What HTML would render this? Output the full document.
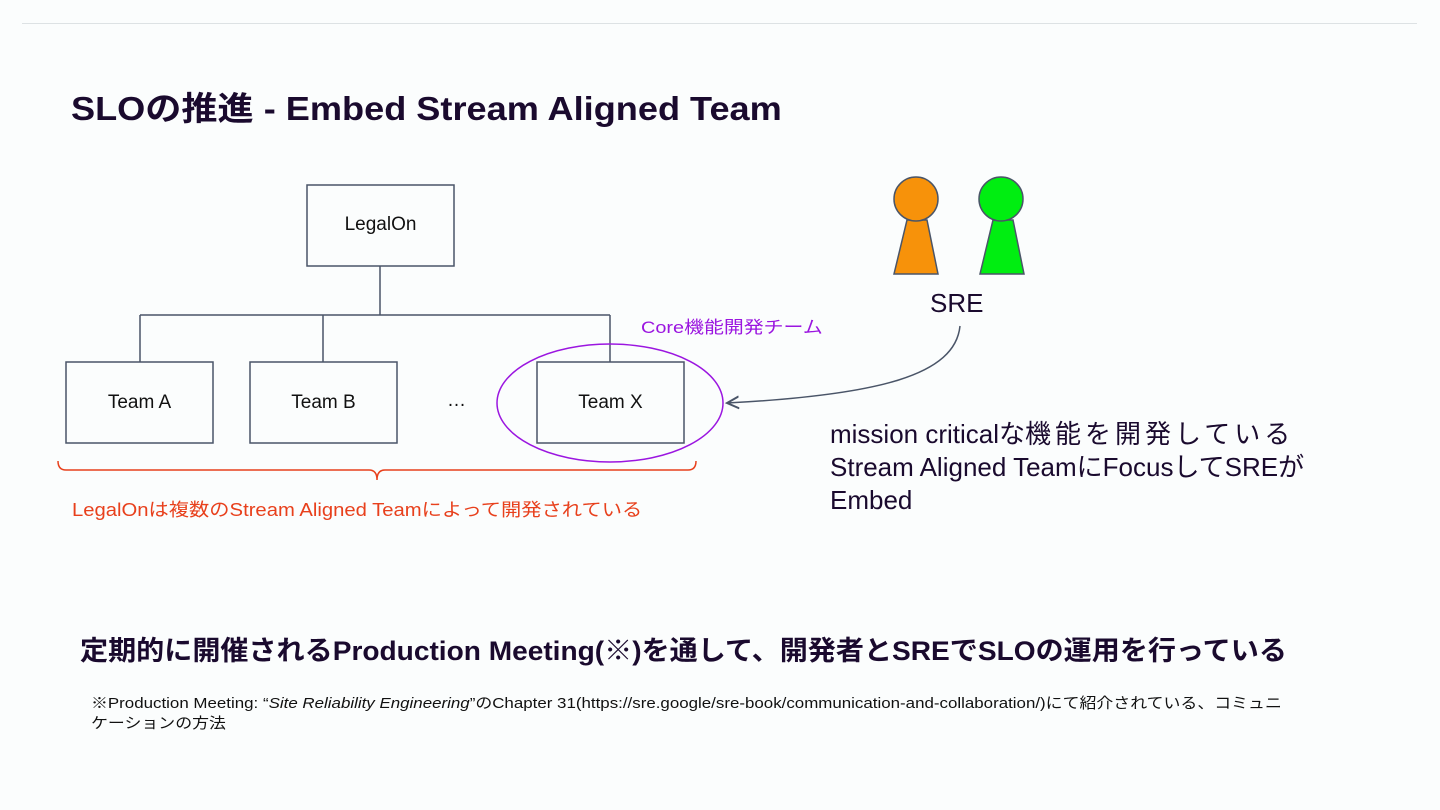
<!DOCTYPE html>
<html><head><meta charset="utf-8"><style>
body{margin:0;width:1440px;height:810px;background:#fbfdfd;position:relative;overflow:hidden;font-family:"Liberation Sans","Noto Sans CJK JP",sans-serif;}
.t{position:absolute;white-space:nowrap;transform-origin:0 0;}
</style></head><body>
<div style="position:absolute;left:22px;top:23px;width:1395px;height:1px;background:#dde2e4"></div>
<div class="t" style="left:71px;top:82px;font-size:33px;font-weight:bold;color:#1a0a2e;transform:scaleX(1.095)">SLOの推進 - Embed Stream Aligned Team</div>
<svg width="1440" height="810" style="position:absolute;left:0;top:0">
<defs><marker id="a" markerWidth="10" markerHeight="10" refX="8" refY="5" orient="auto"><path d="M0,1 L8,5 L0,9" fill="none" stroke="#4a5568" stroke-width="1.3"/></marker></defs>
<g fill="none" stroke="#4a5568" stroke-width="1.5">
<rect x="307" y="185" width="147" height="81"/>
<rect x="66" y="362" width="147" height="81"/>
<rect x="250" y="362" width="147" height="81"/>
<rect x="537" y="362" width="147" height="81"/>
<path d="M380 266 V315 M140 315 H610 M140 315 V362 M323 315 V362 M610 315 V362"/>
<path d="M960 326 C955 375 880 395 727 403" marker-end="url(#a)"/>
</g>
<ellipse cx="610" cy="403" rx="113" ry="59" fill="none" stroke="#9b16e0" stroke-width="1.5"/>
<path d="M58 461 Q58 470 66 470 H369 Q377 470 377 480 Q377 470 385 470 H688 Q696 470 696 461" fill="none" stroke="#e8401c" stroke-width="1.5"/>
<g stroke="#4a5568" stroke-width="1.5">
<polygon points="907,220 927,220 938,274 894,274" fill="#f7920a"/>
<circle cx="916" cy="199" r="22" fill="#f7920a"/>
<polygon points="993,220 1013,220 1024,274 980,274" fill="#00ee11"/>
<circle cx="1001" cy="199" r="22" fill="#00ee11"/>
</g>
</svg>
<div class="t" style="left:307px;top:214px;width:147px;text-align:center;font-size:19px;color:#111">LegalOn</div>
<div class="t" style="left:66px;top:392px;width:147px;text-align:center;font-size:19px;color:#111">Team A</div>
<div class="t" style="left:250px;top:392px;width:147px;text-align:center;font-size:19px;color:#111">Team B</div>
<div class="t" style="left:537px;top:392px;width:147px;text-align:center;font-size:19px;color:#111">Team X</div>
<div class="t" style="left:447px;top:390px;font-size:19px;color:#111">…</div>
<div class="t" style="left:641px;top:313px;font-size:17px;color:#9b16e0;transform:scaleX(1.17)">Core機能開発チーム</div>
<div class="t" style="left:930px;top:288px;font-size:26px;color:#1a0a2e">SRE</div>
<div class="t" style="left:72px;top:496px;font-size:18px;color:#e8401c;transform:scaleX(1.125)">LegalOnは複数のStream Aligned Teamによって開発されている</div>
<div class="t" style="left:830px;top:418px;font-size:26px;line-height:33px;color:#1a0a2e">mission criticalな<span style="letter-spacing:4px">機能を開発している</span><br>Stream Aligned TeamにFocusしてSREが<br>Embed</div>
<div class="t" style="left:80px;top:629px;font-size:27px;font-weight:bold;color:#1a0a2e;transform:scaleX(1.04)">定期的に開催されるProduction Meeting(※)を通して、開発者とSREでSLOの運用を行っている</div>
<div class="t" style="left:91px;top:694px;font-size:15px;line-height:20px;color:#111;transform:scaleX(1.127)">※Production Meeting: “<i>Site Reliability Engineering</i>”のChapter 31(https://sre.google/sre-book/communication-and-collaboration/)にて紹介されている、コミュニ<br>ケーションの方法</div>
</body></html>
